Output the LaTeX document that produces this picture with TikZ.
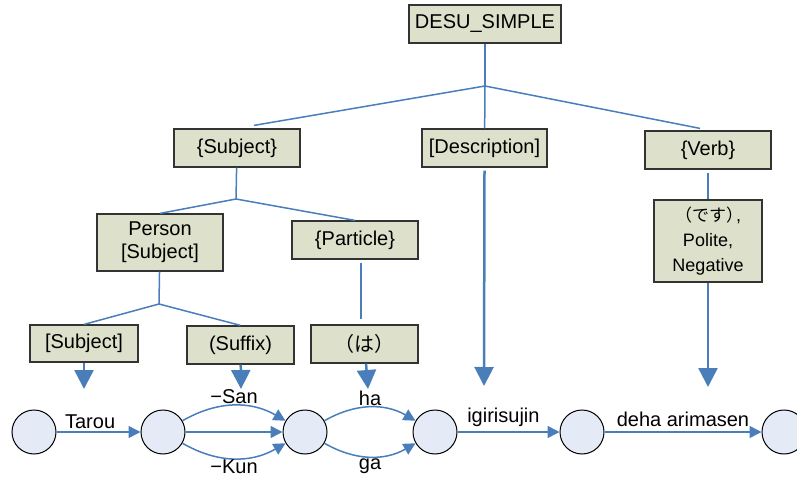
\documentclass[tikz,border=0pt]{standalone}
\usepackage{fontspec}
\setmainfont{Liberation Sans}
\newfontfamily\jpfont{Noto Sans CJK JP}
\usetikzlibrary{positioning,arrows.meta}
\definecolor{boxfill}{HTML}{DDE1CB}
\definecolor{linkblue}{HTML}{4A7EBB}
\definecolor{statefill}{HTML}{E5EBF6}
\newcommand{\bigtip}{-{Triangle[length=19pt,width=19pt]}}
\newcommand{\smalltip}{-{Triangle[length=12pt,width=12pt]}}

\begin{document}
\begin{tikzpicture}[x=1pt,y=-1pt,
    cat/.style={draw=black!80,line width=1.2pt,fill=boxfill,inner sep=0pt,
      font=\fontsize{20}{23}\selectfont,align=center},
    link/.style={draw=linkblue,line width=1.5pt},
    state/.style={circle,draw=black,line width=1pt,fill=statefill,
      minimum size=44pt,inner sep=0pt},
    lbl/.style={font=\fontsize{20}{23}\selectfont,inner sep=1pt}]
            \useasboundingbox (0,0) rectangle (797,478);
            % tree of categories
            \node[cat,minimum width=152pt,minimum height=38pt] (desu) at (485,24) {DESU\_SIMPLE};
            \node[cat,minimum width=126pt,minimum height=38pt] (subj) at (237,148) {\{Subject\}};
            \node[cat,minimum width=125pt,minimum height=38pt] (desc) at (484.5,148) {[Description]};
            \node[cat,minimum width=126pt,minimum height=38pt] (verb) at (708,150) {\{Verb\}};
            \node[cat,minimum width=126pt,minimum height=57pt] (person) at (160,242.5) {Person\\{}[Subject]};
            \node[cat,minimum width=126pt,minimum height=38pt] (particle) at (355,240) {\{Particle\}};
            \node[cat,minimum width=108pt,minimum height=37pt] (subjword) at (84,343.5) {[Subject]};
            \node[cat,minimum width=107pt,minimum height=38pt] (suffix) at (240.5,345) {(Suffix)};
            \node[cat,minimum width=107pt,minimum height=38pt] (hapart) at (364.5,344) {\jpfont （は）};
            \node[cat,minimum width=108pt,minimum height=82pt,font=\fontsize{18}{25}\selectfont] (desuverb) at (708,241) {{\jpfont\fontsize{17}{25}\selectfont （です）}\kern-7pt,\\Polite,\\Negative};
            \coordinate (j0) at (485,86);
            \coordinate (j1) at (236,199);
            \coordinate (j2) at (159,304);
            \draw[link] (desu) -- (j0);
            \draw[link] (j0) -- ([xshift=17pt,yshift=3pt]subj.north);
            \draw[link] (j0) -- (desc);
            \draw[link] (j0) -- ([xshift=-8pt,yshift=2pt]verb.north);
            \draw[link] (subj) -- (j1);
            \draw[link] (j1) -- (person.north);
            \draw[link] (j1) -- (particle.north);
            \draw[link] (person) -- (j2);
            \draw[link] (j2) -- (subjword.north);
            \draw[link] (j2) -- (suffix.north);
            \draw[link] ([yshift=-3pt]particle.south -| 361,0) -- ([yshift=5pt]hapart.north -| 361,0);
            \draw[link] ([yshift=-3pt]verb.south) -- (desuverb);
            % arrows down to the word graph
            \coordinate (d1) at (84,389);
            \coordinate (d2) at (241,389);
            \coordinate (d3) at (368,389);
            \coordinate (d4) at (484,386);
            \coordinate (d5) at (708,387);
            \draw[link,line width=2.5pt,\bigtip] (subjword) -- (d1);
            \draw[link,line width=2.5pt,\bigtip] (suffix) -- (d2);
            \draw[link,line width=2.5pt,\bigtip] (hapart) -- (d3);
            \draw[link,line width=2.5pt,\bigtip] ([yshift=-3pt]desc.south) -- (d4);
            \draw[link,line width=2.5pt,\bigtip] (desuverb) -- (d5);
            % word graph
            \node[state] (c1) at (34,432) {};
            \node[state] (c2) at (163,432) {};
            \node[state] (c3) at (305,432) {};
            \node[state] (c4) at (435,432) {};
            \node[state] (c5) at (582,432) {};
            \node[state] (c6) at (784,432) {};
            \draw[link,\smalltip] (c1) -- node[lbl,above=2pt,pos=.4] {Tarou} (c2);
            \draw[link,\smalltip] (c2) to[bend left=30] node[lbl,above] {−San} (c3);
            \draw[link,\smalltip] (c2) -- (c3);
            \draw[link,\smalltip] (c2) to[bend right=30] node[lbl,below] {−Kun} (c3);
            \draw[link,\smalltip] (c3) to[bend left=30] node[lbl,above] {ha} (c4);
            \draw[link,\smalltip] (c3) to[bend right=30] node[lbl,below] {ga} (c4);
            \draw[link,\smalltip] (c4) -- node[lbl,above=4pt,pos=.45] {igirisujin} (c5);
            \draw[link,\smalltip] (c5) -- node[lbl,above=4pt,pos=.5] {deha arimasen} (c6);
        \end{tikzpicture}
\end{document}
